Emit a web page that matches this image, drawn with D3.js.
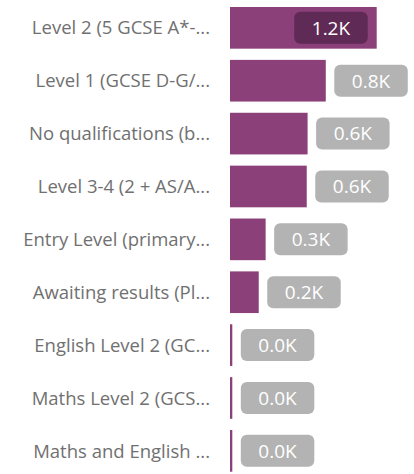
<!DOCTYPE html>
<html>
<head>
<meta charset="utf-8">
<script src="https://cdn.jsdelivr.net/npm/d3@7"></script>
<style>
  html, body { margin: 0; padding: 0; background: #ffffff; }
  svg { display: block; }
</style>
</head>
<body>
<svg id="chart" width="414" height="474"></svg>
<script>
const categories = [
  "Level 2 (5 GCSE A*-...",
  "Level 1 (GCSE D-G/...",
  "No qualifications (b...",
  "Level 3-4 (2 + AS/A...",
  "Entry Level (primary...",
  "Awaiting results (Pl...",
  "English Level 2 (GC...",
  "Maths Level 2 (GCS...",
  "Maths and English ..."
];
const values = [1210, 790, 640, 633, 294, 237, 19, 19, 19];

const W = 414, H = 474;
const FONT = "'Segoe UI', 'Open Sans', sans-serif";
const barColor = "#8b4079";
const insideBox = "#5f2a55";
const outsideBox = "#b3b3b3";
const labelColor = "#707070";

const data = categories.map((c, i) => ({ cat: c, value: values[i] }));

const svg = d3.select("#chart");

const y = d3.scaleBand()
  .domain(categories)
  .range([1.4, 477.3])
  .paddingInner(0.212)
  .paddingOuter(0.106);

const x = d3.scaleLinear()
  .domain([0, 1210])
  .range([230, 376.7]);

const fmt = v => d3.format(".1f")(v / 1000) + "K";

// category axis labels
svg.append("g").selectAll("text")
  .data(data)
  .join("text")
  .attr("x", 210)
  .attr("y", d => y(d.cat) + y.bandwidth() / 2)
  .attr("dy", "0.36em")
  .attr("text-anchor", "end")
  .attr("font-family", FONT)
  .attr("font-size", 18.5)
  .attr("fill", labelColor)
  .text(d => d.cat);

// bars
svg.append("g").selectAll("rect")
  .data(data)
  .join("rect")
  .attr("x", x(0))
  .attr("y", d => y(d.cat))
  .attr("width", d => Math.max(2.3, x(d.value) - x(0)))
  .attr("height", y.bandwidth())
  .attr("fill", barColor);

// data labels
const boxW = 73.5, boxH = 32;
const lab = svg.append("g").selectAll("g")
  .data(data)
  .join("g")
  .attr("transform", d => {
    const barW = Math.max(2.3, x(d.value) - x(0));
    const inside = barW > boxW + 40;
    d.inside = inside;
    const bx = inside ? x(0) + barW - 9 - boxW : x(0) + barW + 8.5;
    const by = y(d.cat) + y.bandwidth() / 2 - boxH / 2;
    return `translate(${bx},${by})`;
  });

lab.append("rect")
  .attr("width", boxW)
  .attr("height", boxH)
  .attr("rx", 6)
  .attr("ry", 6)
  .attr("fill", d => d.inside ? insideBox : outsideBox);

lab.append("text")
  .attr("x", boxW / 2)
  .attr("y", boxH / 2)
  .attr("dy", "0.36em")
  .attr("text-anchor", "middle")
  .attr("font-family", FONT)
  .attr("font-size", 19)
  .attr("fill", "#ffffff")
  .text(d => fmt(d.value));
</script>
</body>
</html>
